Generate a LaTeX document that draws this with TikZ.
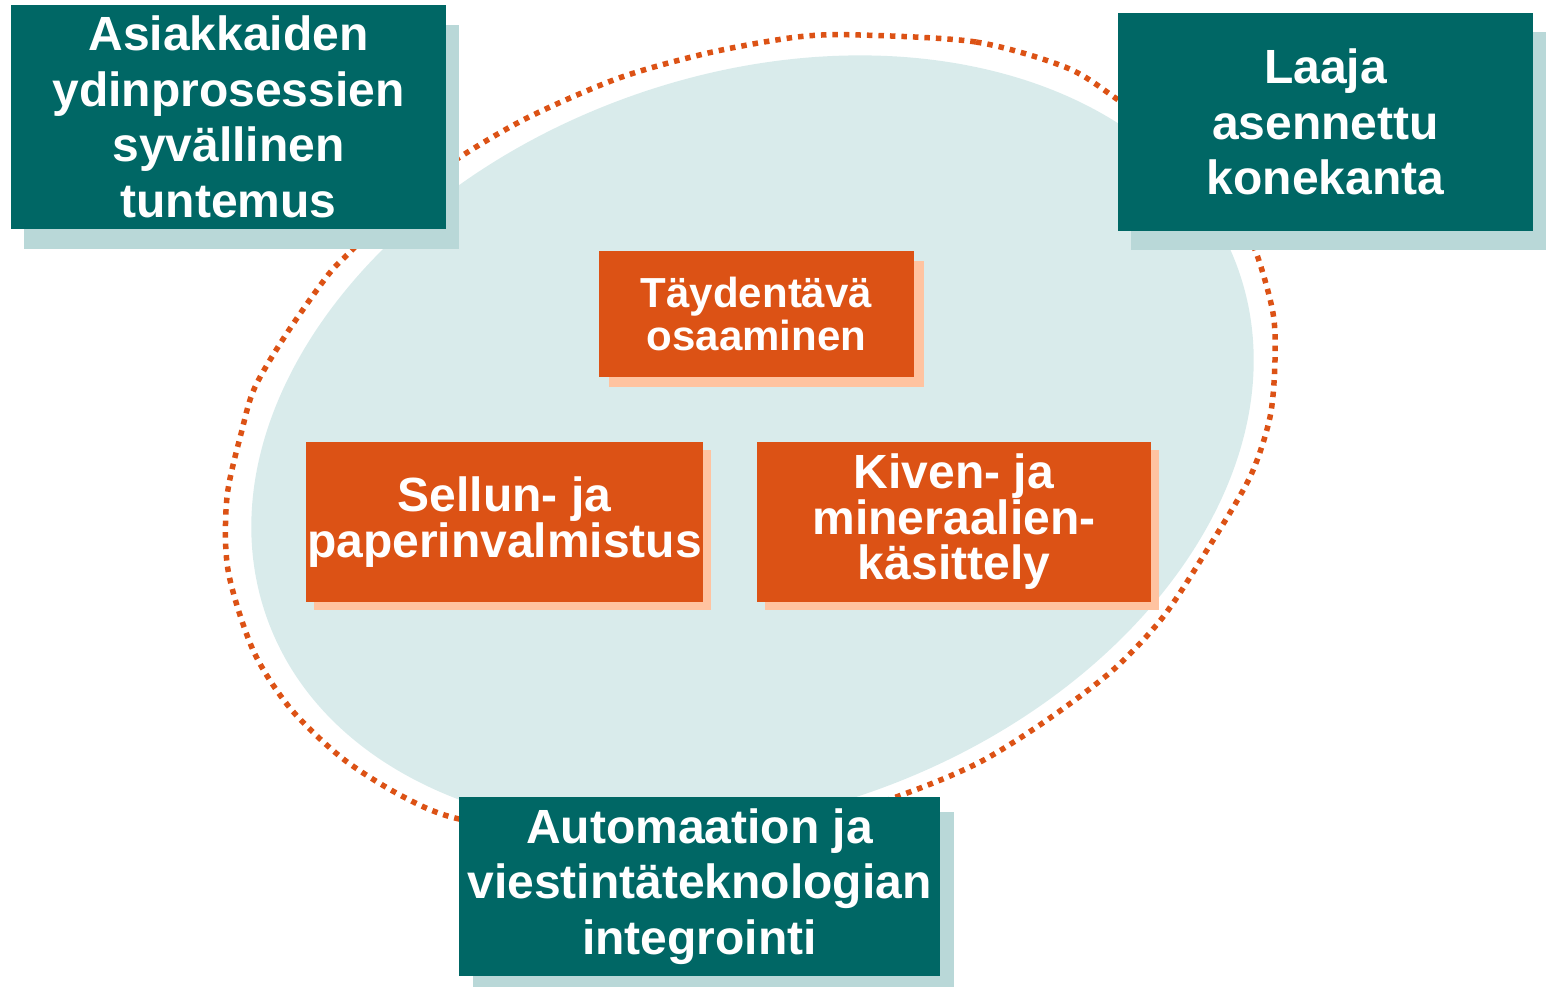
\documentclass[tikz,border=0pt]{standalone}
\usepackage{fontspec}
\setmainfont{Liberation Sans}
\usetikzlibrary{shadows}
\definecolor{tealbox}{RGB}{0,103,101}
\definecolor{tealshade}{RGB}{185,216,216}
\definecolor{ellfill}{RGB}{217,235,235}
\definecolor{orangebox}{RGB}{220,82,21}
\definecolor{orangeshade}{RGB}{255,195,160}
\tikzset{
  greenbox/.style 2 args={
    % The shape:
    rectangle,
    % The border and filling:
    draw=none, fill=tealbox,
    % The shadow, shifted right and down:
    general shadow={fill=tealshade, shadow xshift=#1, shadow yshift=#2},
    % Font
    text=white, align=center, inner sep=0pt,
    font=\fontsize{48}{55.5}\selectfont\bfseries
  },
  orangebox/.style 2 args={
    % The shape:
    rectangle,
    % The border and filling:
    draw=none, fill=orangebox,
    % The shadow
    general shadow={fill=orangeshade, shadow xshift=#1, shadow yshift=#2},
    % Font
    text=white, align=center, inner sep=0pt,
    font=\fontsize{48}{45.5}\selectfont\bfseries
  },
  dotline/.style={draw=orangebox, line width=5.5pt, dash pattern=on 5.5pt off 6pt}
}

\begin{document}
\begin{tikzpicture}[x=1pt,y=-1pt]
\useasboundingbox (0,0) rectangle (1546,986);
% background shape
\fill[ellfill, rotate around={19.9:(752.5,443.5)}] (752.5,443.5) ellipse [x radius=516, y radius=368];
% dotted ring
\draw[dotline] plot[smooth cycle] coordinates {(860,35) (976,42) (1065,67) (1114,97) (1190,155) (1237,215) (1257,255) (1273,313) (1275,360) (1270,417) (1250,477) (1207,550) (1163,617) (1113,670) (1047,720) (980,762) (907,793) (800,828) (680,840) (560,835) (455,818) (400,795) (342,758) (290,708) (253,650) (228,570) (227,497) (242,430) (255,387) (287,333) (328,275) (352,250) (400,200) (460,157) (529,117) (619,78) (708,53) (797,37)};

% Draw boxes
\node [greenbox={13pt}{-20pt}, minimum width=435pt, minimum height=224pt] (asiakas) at (228.5,117) {Asiakkaiden\\ydinprosessien\\syvällinen\\tuntemus};
\node [greenbox={13pt}{-19pt}, minimum width=415pt, minimum height=218pt] (konekanta) at (1325.5,122) {Laaja\\asennettu\\konekanta};
\node [greenbox={14pt}{-15pt}, minimum width=481pt, minimum height=179pt] (automaatio) at (699.5,886.5) {Automaation ja\\viestintäteknologian\\integrointi};
\node [orangebox={10pt}{-10pt}, minimum width=315pt, minimum height=126pt, font=\fontsize{42}{43}\selectfont\bfseries] (osaaminen) at (756.5,314) {Täydentävä\\osaaminen};
\node [orangebox={8pt}{-8pt}, minimum width=397pt, minimum height=160pt] (sellu) at (504.5,522) {Sellun- ja\\paperinvalmistus};
\node [orangebox={8pt}{-8pt}, minimum width=394pt, minimum height=160pt] (kivi) at (954,522) {Kiven- ja\\mineraalien-\\käsittely};
\end{tikzpicture}
\end{document}
